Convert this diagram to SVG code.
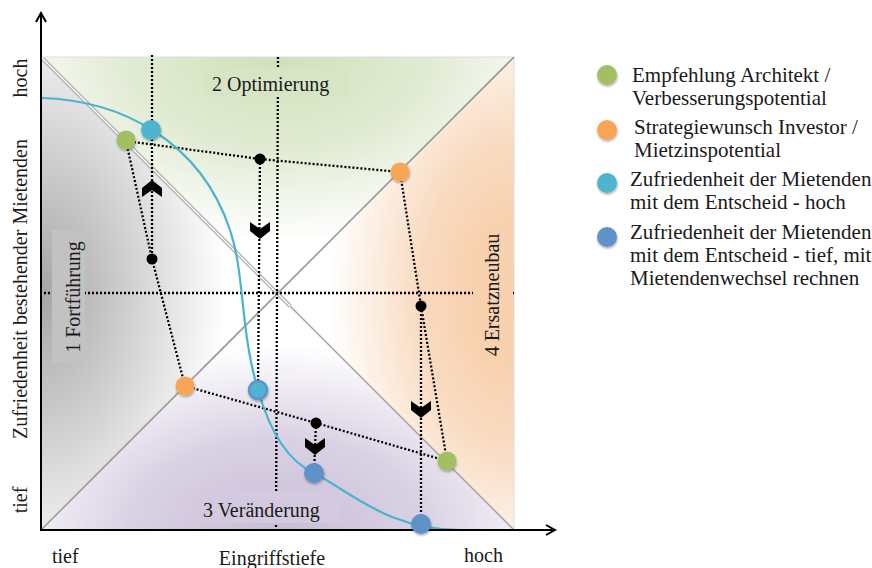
<svg xmlns="http://www.w3.org/2000/svg" width="872" height="568" viewBox="0 0 872 568">
<defs>
  <radialGradient id="gLeft" gradientUnits="userSpaceOnUse" cx="41" cy="293" r="185" gradientTransform="translate(41 293) scale(1 1.6) translate(-41 -293)">
    <stop offset="0" stop-color="#a6a6a6"/>
    <stop offset="0.5" stop-color="#d2d2d2"/>
    <stop offset="1" stop-color="#ffffff"/>
  </radialGradient>
  <radialGradient id="gTop" gradientUnits="userSpaceOnUse" cx="278" cy="57" r="185" gradientTransform="translate(278 57) scale(1.6 1) translate(-278 -57)">
    <stop offset="0" stop-color="#d1e0b9"/>
    <stop offset="0.5" stop-color="#e1ebd3"/>
    <stop offset="1" stop-color="#ffffff"/>
  </radialGradient>
  <radialGradient id="gRight" gradientUnits="userSpaceOnUse" cx="514" cy="293" r="185" gradientTransform="translate(514 293) scale(1 1.6) translate(-514 -293)">
    <stop offset="0" stop-color="#f7c9a0"/>
    <stop offset="0.5" stop-color="#f9dabf"/>
    <stop offset="1" stop-color="#ffffff"/>
  </radialGradient>
  <radialGradient id="gBottom" gradientUnits="userSpaceOnUse" cx="278" cy="530" r="185" gradientTransform="translate(278 530) scale(1.6 1) translate(-278 -530)">
    <stop offset="0" stop-color="#c9bdd8"/>
    <stop offset="0.5" stop-color="#dad2e4"/>
    <stop offset="1" stop-color="#ffffff"/>
  </radialGradient>
  <marker id="arr" viewBox="0 0 12 12" refX="10" refY="6" markerWidth="12" markerHeight="12" markerUnits="userSpaceOnUse" orient="auto">
    <path d="M1,1 L10,6 L1,11" fill="none" stroke="#000" stroke-width="2"/>
  </marker>
  <filter id="sh" x="-50%" y="-50%" width="200%" height="200%">
    <feDropShadow dx="0.5" dy="1.5" stdDeviation="1" flood-color="#000" flood-opacity="0.35"/>
  </filter>
  <path id="chevDown" d="M-10,-9 L0,-2 L10,-9 L10,0 L0,8 L-10,0 Z"/>
</defs>
<style>
  .t { font-family: "Liberation Serif", "Times New Roman", serif; fill: #1a1a1a; }
  .ax { font-size: 20px; }
  .lg { font-size: 21px; }
  .dot { fill: none; stroke: #000; stroke-width: 2.3; stroke-dasharray: 2 2; }
  .bk { fill: #000; }
  .green { fill: #a2c062; }
  .orange { fill: #f8a557; }
  .cyan { fill: #4db5cf; }
  .blue { fill: #5e92c9; }
</style>

<g id="background">
  <polygon points="41,57 278,293 41,530" fill="url(#gLeft)"/>
  <polygon points="41,57 514,57 278,293" fill="url(#gTop)"/>
  <polygon points="514,57 514,530 278,293" fill="url(#gRight)"/>
  <polygon points="41,530 514,530 278,293" fill="url(#gBottom)"/>
  <rect x="41" y="57" width="473" height="473" fill="none" stroke="#dddddd" stroke-width="1"/>
  <line x1="41" y1="530" x2="514" y2="57" stroke="#9a9a9a" stroke-width="1.6"/>
  <line x1="43" y1="59" x2="290" y2="306" stroke="#b0b0b0" stroke-width="4"/>
  <line x1="43" y1="59" x2="290" y2="306" stroke="#ffffff" stroke-width="1.4"/>
  <line x1="290" y1="306" x2="514" y2="530" stroke="#a0a0a0" stroke-width="1.4"/>
</g>

<g id="connectors">
  <line class="dot" x1="44" y1="293" x2="514" y2="293"/>
  <line class="dot" x1="278" y1="57" x2="276" y2="530"/>
  <line class="dot" x1="152" y1="55" x2="152" y2="259"/>
  <line class="dot" x1="260" y1="159" x2="258" y2="390"/>
  <line class="dot" x1="421" y1="306" x2="421" y2="524"/>
  <line class="dot" x1="316" y1="423" x2="314" y2="473"/>
  <polyline class="dot" points="126,141 260,159 400,172"/>
  <polyline class="dot" points="126,141 152,259 185,386"/>
  <polyline class="dot" points="400,172 421,306 447,461"/>
  <polyline class="dot" points="185,386 316,423 447,461"/>
</g>

<g id="labels-quadrants">
  <rect x="205" y="68" width="143" height="29" fill="#d8e5c5"/>
  <text class="t ax" x="212" y="91">2 Optimierung</text>
  <rect x="197" y="491" width="143" height="32" fill="#d3cadf"/>
  <text class="t ax" x="203" y="517">3 Veränderung</text>
  <rect x="52" y="230" width="33" height="133" fill="#c2c2c2"/>
  <text class="t ax" transform="translate(80,297) rotate(-90)" text-anchor="middle">1 Fortführung</text>
  <rect x="473" y="225" width="40" height="140" fill="#f8d1ae"/>
  <text class="t ax" transform="translate(499,295) rotate(-90)" text-anchor="middle">4 Ersatzneubau</text>
</g>

<g id="curve">
  <path d="M41,98 C120,100 200,140 230,230 C245,275 240,330 258,390 C268,425 285,460 314,473 C355,495 390,530 460,530" fill="none" stroke="#4bb3cd" stroke-width="2.2"/>
</g>

<g id="chevrons">
  <use href="#chevDown" transform="translate(152,188) rotate(180)"/>
  <use href="#chevDown" transform="translate(260,231)"/>
  <use href="#chevDown" transform="translate(421,410)"/>
  <use href="#chevDown" transform="translate(315,447)"/>
</g>

<g id="axes">
  <line x1="41" y1="531" x2="41" y2="13" stroke="#000" stroke-width="2" marker-end="url(#arr)"/>
  <line x1="40" y1="530" x2="555" y2="530" stroke="#000" stroke-width="2" marker-end="url(#arr)"/>
  <text class="t ax" transform="translate(27,78) rotate(-90)" text-anchor="middle">hoch</text>
  <text class="t ax" transform="translate(27,289) rotate(-90)" text-anchor="middle">Zufriedenheit bestehender Mietenden</text>
  <text class="t ax" transform="translate(27,500) rotate(-90)" text-anchor="middle">tief</text>
  <text class="t ax" x="52" y="563">tief</text>
  <text class="t ax" x="272" y="565" text-anchor="middle">Eingriffstiefe</text>
  <text class="t ax" x="464" y="562">hoch</text>
</g>

<g id="points">
  <circle class="bk" cx="152" cy="259" r="5.5"/>
  <circle class="bk" cx="260" cy="159" r="5.5"/>
  <circle class="bk" cx="421" cy="306" r="5.5"/>
  <circle class="bk" cx="316" cy="423" r="5.5"/>
  <circle class="green" cx="126" cy="140" r="9.5" filter="url(#sh)"/>
  <circle class="green" cx="447" cy="461" r="9.5" filter="url(#sh)"/>
  <circle class="orange" cx="400" cy="172" r="9.5" filter="url(#sh)"/>
  <circle class="orange" cx="185" cy="386" r="9.5" filter="url(#sh)"/>
  <circle class="cyan" cx="151" cy="130" r="10" filter="url(#sh)"/>
  <circle class="cyan" cx="258" cy="390" r="9" stroke="#5e92c9" stroke-width="2.5" filter="url(#sh)"/>
  <circle class="blue" cx="314" cy="473" r="10" filter="url(#sh)"/>
  <circle class="blue" cx="421" cy="524" r="10" filter="url(#sh)"/>
</g>

<g id="legend">
  <circle class="green" cx="607" cy="75" r="10" filter="url(#sh)"/>
  <text class="t lg" x="632" y="82">Empfehlung Architekt /</text>
  <text class="t lg" x="632" y="105">Verbesserungspotential</text>
  <circle class="orange" cx="607" cy="130" r="10" filter="url(#sh)"/>
  <text class="t lg" x="634" y="134">Strategiewunsch Investor /</text>
  <text class="t lg" x="634" y="157">Mietzinspotential</text>
  <circle class="cyan" cx="607" cy="183" r="10" filter="url(#sh)"/>
  <text class="t lg" x="630" y="186">Zufriedenheit der Mietenden</text>
  <text class="t lg" x="630" y="209">mit dem Entscheid - hoch</text>
  <circle class="blue" cx="607" cy="237" r="10" filter="url(#sh)"/>
  <text class="t lg" x="630" y="239">Zufriedenheit der Mietenden</text>
  <text class="t lg" x="630" y="262">mit dem Entscheid - tief, mit</text>
  <text class="t lg" x="630" y="285">Mietendenwechsel rechnen</text>
</g>
</svg>
